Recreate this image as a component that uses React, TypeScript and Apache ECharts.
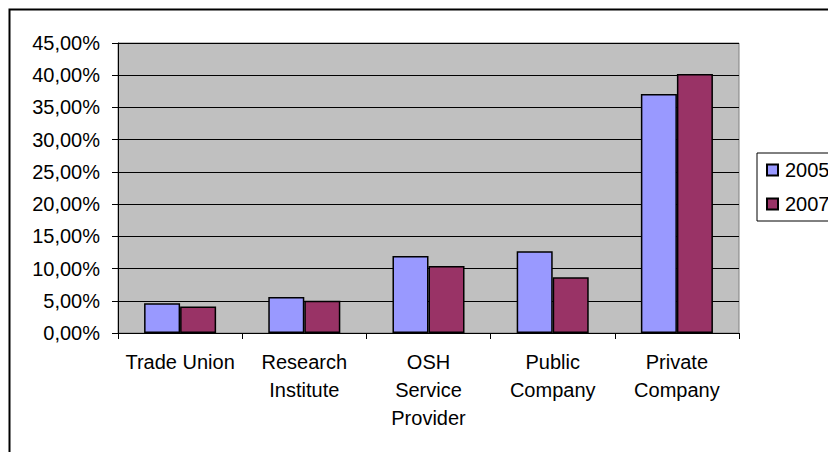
import React, { useEffect, useRef } from "react";
import * as echarts from "echarts";

const categories = ["Trade Union", "Research\nInstitute", "OSH\nService\nProvider", "Public\nCompany", "Private\nCompany"];
const series2005 = [4.6, 5.6, 11.95, 12.7, 37.1];
const series2007 = [4.1, 5.0, 10.4, 8.65, 40.2];
const seriesNames = ["2005", "2007"];
const yTicks = { min: 0, max: 45, interval: 5 };

export default function App() {
  const ref = useRef<HTMLDivElement>(null);
  useEffect(() => {
    if (!ref.current) return;
    const chart = echarts.init(ref.current, null, { renderer: "svg" });
    const font = "'Liberation Sans', Arial, sans-serif";
    chart.setOption({
      animation: false,
      backgroundColor: "#ffffff",
      textStyle: { fontFamily: font },
      graphic: [
        {
          type: "rect",
          shape: { x: 9.5, y: 9.5, width: 900, height: 900 },
          style: { fill: "none", stroke: "#000", lineWidth: 2 },
          z: 100,
        },
      ],
      grid: {
        left: 118,
        top: 43,
        right: 89,
        bottom: 119,
        show: true,
        backgroundColor: "#C0C0C0",
        borderColor: "#808080",
        borderWidth: 1,
      },
      legend: {
        orient: "vertical",
        left: 757,
        top: 153,
        padding: [7, 8, 7, 9],
        itemWidth: 11,
        itemHeight: 11,
        itemGap: 14,
        borderColor: "#000",
        borderWidth: 1,
        backgroundColor: "#fff",
        icon: "rect",
        textStyle: { fontSize: 20, color: "#000", fontFamily: font, padding: [0, 0, 0, 2] },
        data: seriesNames,
      },
      xAxis: {
        type: "category",
        data: categories,
        axisLine: { lineStyle: { color: "#000", width: 1 } },
        axisTick: { show: true, length: 6, lineStyle: { color: "#000" }, alignWithLabel: false },
        axisLabel: { color: "#000", fontSize: 20, lineHeight: 28, margin: 15, fontFamily: font, interval: 0 },
        splitLine: { show: false },
      },
      yAxis: {
        type: "value",
        min: yTicks.min,
        max: yTicks.max,
        interval: yTicks.interval,
        axisLine: { show: true, lineStyle: { color: "#000", width: 1 } },
        axisTick: { show: true, length: 6, lineStyle: { color: "#000" } },
        axisLabel: {
          color: "#000",
          fontSize: 20,
          margin: 18,
          fontFamily: font,
          formatter: (v: number) => v.toFixed(2).replace(".", ",") + "%",
        },
        splitLine: { show: true, lineStyle: { color: "#000", width: 1 } },
      },
      series: [
        {
          name: seriesNames[0],
          type: "bar",
          data: series2005,
          barGap: "0%",
          barCategoryGap: "42%",
          itemStyle: { color: "#9999FF", borderColor: "#000", borderWidth: 1.5 },
        },
        {
          name: seriesNames[1],
          type: "bar",
          data: series2007,
          barGap: "0%",
          barCategoryGap: "42%",
          itemStyle: { color: "#993366", borderColor: "#000", borderWidth: 1.5 },
        },
      ],
    });
    return () => chart.dispose();
  }, []);
  return (
    <div
      ref={ref}
      style={{ position: "fixed", left: 0, top: 0, width: 828, height: 452 }}
    />
  );
}
